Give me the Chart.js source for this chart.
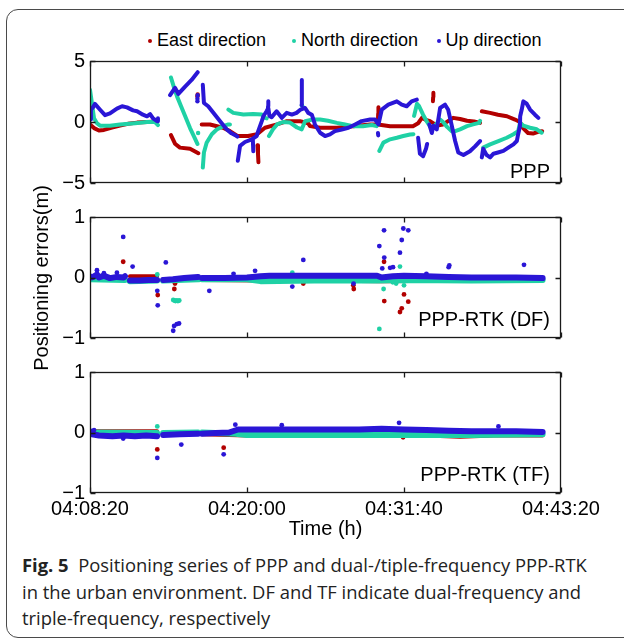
<!DOCTYPE html>
<html>
<head>
<meta charset="utf-8">
<script src="https://cdn.jsdelivr.net/npm/chart.js@4.4.1/dist/chart.umd.min.js"></script>
<style>
  html, body { margin: 0; padding: 0; background: #fff; }
  body { position: relative; width: 624px; height: 639px; overflow: hidden; font-family: "Liberation Sans", Arial, sans-serif; color: #000; }
  .frame { position: absolute; left: 6px; top: 9px; width: 700px; height: 629px; border: 1px solid #4a4a4a; border-radius: 12px; box-sizing: border-box; }
  canvas { position: absolute; left: 0; }
  #legend .item { position: absolute; top: 30px; font-size: 18px; line-height: 20px; white-space: nowrap; }
  #legend .dot { position: absolute; width: 4px; height: 4px; border-radius: 50%; top: 9px; left: -9px; }
  .ylabel { position: absolute; left: -109px; top: 267.5px; width: 300px; height: 20px; line-height: 20px; font-size: 20px; text-align: center; transform: rotate(-90deg); white-space: nowrap; }
  .xlabel { position: absolute; left: 225.5px; top: 518px; width: 200px; line-height: 20px; font-size: 20px; text-align: center; }
  .caption { position: absolute; left: 22px; top: 552px; font-family: "Open Sans", sans-serif; font-size: 18.4px; line-height: 26.6px; color: #222; white-space: nowrap; }
  .caption b { font-weight: 700; }
</style>
</head>
<body>
<div class="frame"></div>
<div id="legend"></div>
<canvas id="pppCanvas" width="624" height="170" style="top:30px"></canvas>
<canvas id="dfCanvas" width="624" height="155" style="top:200px"></canvas>
<canvas id="tfCanvas" width="624" height="185" style="top:355px"></canvas>
<div class="ylabel">Positioning errors(m)</div>
<div class="xlabel">Time (h)</div>
<div class="caption"><b>Fig. 5</b>&nbsp; Positioning series of PPP and dual-/tiple-frequency PPP-RTK<br>in the urban environment. DF and TF indicate dual-frequency and<br>triple-frequency, respectively</div>
<script>
// time axis in seconds after 04:08:20
const timeTicks = [0, 700, 1400, 2100];
const timeLabels = ['04:08:20', '04:20:00', '04:31:40', '04:43:20'];
const pppTicks = [-5, 0, 5];
const pppTickLabels = ['\u22125', '0', '5'];
const rtkTicks = [-1, 0, 1];
const rtkTickLabels = ['\u22121', '0', '1'];

const seriesNames = ['East direction', 'North direction', 'Up direction'];
const seriesColors = ['#b20000', '#1fd1a5', '#2a16d6'];

// PPP: pieces of each track, [seconds, metres]
const pppEast = [
  [[0,-0.2],[18,-0.5],[40,-0.7],[62,-0.65],[98,-0.45],[134,-0.3],[169,-0.15],[210,-0.05],[254,0],[299,0.05]],
  [[361,-1.07],[379,-1.78],[401,-2.1],[446,-2.2],[483,-2.56]],
  [[498,-0.2],[535,-0.2],[593,-0.47],[624,-0.75],[657,-1.15],[705,-1.15],[745,-1.0],[780,-0.47],[834,-0.2],[878,0.07],[936,0.07],[972,-0.1],[981,-0.34],[1026,-0.47],[1101,-0.47],[1173,-0.34],[1249,-0.2],[1284,-0.2],[1338,-0.34],[1396,-0.34],[1440,-0.34],[1463,-0.1],[1480,0.34],[1494,0.2],[1516,0.07],[1547,-0.3],[1574,-0.2],[1619,0.34],[1650,0.25],[1681,0.1],[1712,0.05],[1739,-0.07]],
  [[1747,0.88],[1784,0.75],[1819,0.6],[1859,0.47],[1895,0.2],[1917,0],[1931,-0.5],[1953,-0.9],[1975,-0.95],[1998,-0.8],[2016,-0.75]],
  [[747,-1.9],[749,-2.6],[751,-3.3]],
  [[1284,0.2],[1285,0.7],[1286,1.2]],
  [[1529,1.7],[1530,2.05],[1531,2.4]]
];
const pppEastDots = [[479,2.1],[480,2.25]];

const pppNorth = [
  [[0,2.64],[9,1.5],[18,0.3],[31,-0.1],[45,-0.3],[89,-0.3],[134,-0.2],[201,-0.1],[254,0],[290,0],[303,-0.25]],
  [[361,3.65],[375,2.8],[388,2.1],[406,1.3],[424,0.5],[446,-0.5],[464,-1.2],[479,-1.8]],
  [[503,-3.73],[508,-2.5],[520,-1.7],[543,-1.0],[565,-0.61],[594,-0.34],[617,-0.2],[624,-0.2]],
  [[617,1.02],[639,0.75],[684,0.61],[728,0.65],[766,0.61],[780,0.34],[788,0.3]],
  [[798,-1.15],[816,-0.6],[834,-0.2],[861,0],[892,-0.05],[923,-0.45],[944,-0.6],[959,0.07],[994,0.2],[1026,0.2],[1061,0.1],[1101,-0.07],[1137,-0.2],[1173,-0.34],[1217,-0.34],[1257,-0.25],[1278,-0.34]],
  [[1290,-2.37],[1308,-1.69],[1338,-1.42],[1368,-1.29],[1397,-1.15],[1427,-1.02],[1442,-1.0]],
  [[1445,0.5],[1458,1.5],[1467,1.3],[1485,0.6],[1503,0],[1521,-0.5],[1538,-0.3],[1561,0.2],[1574,0],[1592,-0.4],[1613,-0.75],[1628,-0.75],[1650,-0.6],[1681,-0.34],[1708,-0.2],[1735,-0.07],[1739,0.1]],
  [[1753,-2.1],[1784,-1.83],[1821,-1.56],[1858,-1.29],[1888,-1.0],[1909,-0.75],[1917,-0.07],[1932,-0.3],[1962,-0.47],[1992,-0.6],[2014,-0.88]]
];
const pppNorthDots = [[482,-0.9],[945,1.35],[950,1.2]];

const pppUp = [
  [[0,0.2],[4,1.0],[13,1.2],[22,1.48],[45,1.0],[67,0.56],[89,0.7],[120,1.1],[143,1.29],[165,1.2],[192,0.95],[210,0.88],[236,0.6],[254,0.47],[268,0.65],[281,0.3],[299,0.07],[303,0.3]],
  [[357,2.2],[379,2.8],[394,2.3],[424,2.9],[453,3.45],[480,4.08]],
  [[503,3.05],[508,1.56],[527,1.29],[550,0.75],[580,0.07],[610,-0.61],[631,-0.93],[654,-1.15],[657,-1.2]],
  [[659,-3.18],[669,-1.96],[691,-1.64],[721,-1.42],[743,-1.15],[750,-0.75],[766,0.07],[773,0.47],[788,0.9],[795,1.15],[800,0.5],[810,0.4],[832,0.88],[855,0.34],[877,0.75],[900,0.61],[921,0.75],[939,1.02],[959,1.15],[973,0.75],[989,0.6],[1003,-0.2],[1026,-0.88],[1048,-1.15],[1070,-1.02],[1092,-0.75],[1122,-0.61],[1152,-0.47],[1182,-0.2],[1211,0.07],[1249,0.2],[1271,0.2],[1286,-0.2],[1301,1.02],[1330,1.42],[1368,1.69],[1390,1.42],[1412,1.29],[1434,1.69],[1457,1.83]],
  [[1463,-1.3],[1471,-2.6],[1485,-2.8],[1498,-2.2],[1503,-1.8]],
  [[1513,-0.2],[1524,-0.9],[1531,-0.3],[1546,-0.6],[1561,1.15],[1583,1.42],[1597,1.0],[1613,-0.3],[1628,-1.56],[1642,-2.5],[1665,-2.7],[1694,-2.4],[1717,-2.0],[1739,-1.56]],
  [[1747,-2.9],[1753,-2.2],[1768,-2.7],[1784,-2.9],[1799,-2.6],[1819,-2.5],[1843,-2.37],[1865,-2.1],[1888,-1.83],[1903,-1.56],[1909,-1.0],[1917,-0.34],[1918,0.47],[1925,1.02],[1932,1.69],[1947,1.5],[1962,1.02],[1984,0.6],[1999,0.34]],
  [[943,1.4],[944,2.4],[945,3.45]],
  [[726,-1.4],[727,-1.9],[728,-2.4]],
  [[793,0.9],[794,1.3],[795,1.7]],
  [[1284,-0.9],[1285,-1.1]]
];
const pppUpDots = [[479,1.7],[479,1.9],[480,2.2]];

// PPP-RTK dual-frequency
const dfEast = [
  [[0,0],[156,0]],
  [[178,0.02],[299,0.02]],
  [[326,-0.03],[482,-0.02]],
  [[499,-0.04],[760,-0.05],[1000,-0.05],[1300,-0.06],[1700,-0.05],[2018,-0.05]]
];
const dfNorth = [
  [[0,-0.03],[156,-0.04]],
  [[178,-0.06],[299,-0.05]],
  [[326,-0.05],[482,-0.03]],
  [[499,-0.03],[700,-0.03],[760,-0.06],[1000,-0.05],[1280,-0.05],[1400,-0.04],[1700,-0.05],[2018,-0.04]]
];
const dfUp = [
  [[0,0.02],[9,0],[31,0.05],[40,0],[62,0.03],[89,-0.01],[120,0.01],[150,0],[156,0.02]],
  [[178,-0.05],[220,-0.05],[260,-0.04],[299,-0.04]],
  [[326,-0.04],[370,-0.03],[420,-0.01],[482,0.01]],
  [[499,-0.01],[600,-0.01],[700,0],[760,0.02],[800,0.03],[900,0.03],[1000,0.03],[1100,0.03],[1200,0.03],[1280,0.03],[1300,0],[1350,0.02],[1400,0.03],[1500,0.02],[1600,0.01],[1700,0],[1800,0],[1900,0],[2018,-0.01]]
];
const dfEastDots = [[148,0.26],[302,-0.29],[376,-0.19],[379,-0.1],[951,-0.1],[1174,-0.13],[1176,-0.19],[1311,0.26],[1312,-0.39],[1382,-0.57],[1390,-0.51],[1400,-0.28],[1419,-0.4]];
const dfNorthDots = [[300,0.05],[371,-0.37],[376,-0.38],[381,-0.39],[387,-0.38],[392,-0.39],[398,-0.38],[902,0.08],[1290,-0.85],[1309,-0.19],[1350,-0.08],[1365,-0.1],[1382,0.18],[1400,-0.13]];
const dfUpDots = [[31,0.12],[62,0.07],[120,0.08],[148,0.67],[190,0.18],[300,-0.22],[302,-0.46],[338,0.25],[371,-0.88],[375,-0.8],[387,-0.77],[397,-0.76],[532,-0.22],[640,0.06],[736,0.11],[902,-0.15],[951,0.29],[1175,-0.1],[1290,0.52],[1303,0.15],[1311,0.78],[1312,0.33],[1338,0.16],[1351,0.17],[1382,0.41],[1390,0.62],[1397,0.81],[1419,0.78],[1500,0.06],[1599,0.17],[1602,0.2],[1935,0.21]];

// PPP-RTK triple-frequency
const tfEast = [
  [[0,0.02],[299,0.02]],
  [[326,-0.02],[482,-0.02]],
  [[499,-0.03],[700,-0.05],[1500,-0.05],[1650,-0.07],[1800,-0.05],[2018,-0.05]]
];
const tfNorth = [
  [[0,0],[299,-0.01]],
  [[326,-0.01],[482,0]],
  [[499,0],[650,-0.02],[700,-0.04],[1000,-0.04],[1400,-0.04],[1700,-0.04],[2018,-0.03]]
];
const tfUp = [
  [[0,0.02],[9,-0.03],[40,-0.05],[100,-0.06],[150,-0.05],[200,-0.06],[250,-0.05],[299,-0.06]],
  [[326,-0.04],[400,-0.03],[482,-0.02]],
  [[499,-0.02],[560,-0.01],[620,0],[660,0.05],[700,0.05],[800,0.05],[900,0.05],[1000,0.05],[1100,0.05],[1200,0.05],[1300,0.06],[1400,0.05],[1500,0.04],[1600,0.03],[1700,0.02],[1800,0.02],[1900,0.02],[2018,0.01]]
];
const tfEastDots = [[300,-0.28],[596,-0.25],[1396,-0.08]];
const tfNorthDots = [[300,0.1]];
const tfUpDots = [[18,0.04],[148,-0.1],[300,-0.42],[407,-0.2],[596,-0.36],[648,0.13],[855,0.12],[1378,0.16],[1821,0.1]];

Chart.defaults.font.family = '"Liberation Sans", Arial, sans-serif';
Chart.defaults.font.size = 20;
Chart.defaults.color = '#000';

// legend (html)
const legendX = [150, 294, 438.5];
const legend = document.getElementById('legend');
seriesNames.forEach((name, i) => {
    const item = document.createElement('div');
    item.className = 'item';
    item.style.left = (legendX[i] + 7) + 'px';
    item.innerHTML = `<span class="dot" style="background:${seriesColors[i]}"></span>${name}`;
    legend.appendChild(item);
});

function toLine(segments) {
    const out = [];
    segments.forEach((seg, i) => {
        if (i > 0) out.push({ x: seg[0][0], y: null });
        seg.forEach(([x, y]) => out.push({ x, y }));
    });
    return out;
}

function seriesSets(lines, dots, idx, width, dotRadius) {
    const color = seriesColors[idx];
    const order = 3 - idx;   // east underneath, up on top
    return [
        { data: toLine(lines), borderColor: color, borderWidth: width, pointRadius: 0, spanGaps: false,
          borderCapStyle: 'round', borderJoinStyle: 'round', tension: 0, order },
        { data: dots.map(([x, y]) => ({ x, y })), showLine: false, pointRadius: dotRadius,
          pointBackgroundColor: color, pointBorderWidth: 0, order }
    ];
}

// box with inward ticks + panel label, matlab style
const matlabBox = {
    id: 'matlabBox',
    afterDatasetsDraw(chart, args, opts) {
        const { ctx, chartArea: a, scales } = chart;
        const L = Math.round(a.left) + 0.5, R = Math.round(a.right) - 0.5;
        const T = Math.round(a.top) + 0.5, B = Math.round(a.bottom) - 0.5;
        ctx.save();
        ctx.strokeStyle = '#1a1a1a';
        ctx.lineWidth = 1.3;
        ctx.strokeRect(L, T, R - L, B - T);
        ctx.beginPath();
        timeTicks.forEach(v => {
            const px = Math.round(scales.x.getPixelForValue(v)) + 0.5;
            ctx.moveTo(px, B); ctx.lineTo(px, B - 5);
            ctx.moveTo(px, T); ctx.lineTo(px, T + 5);
        });
        opts.yTicks.forEach(v => {
            const py = Math.round(scales.y.getPixelForValue(v)) + 0.5;
            ctx.moveTo(L, py); ctx.lineTo(L + 5, py);
            ctx.moveTo(R, py); ctx.lineTo(R - 5, py);
        });
        ctx.stroke();
        ctx.fillStyle = '#000';
        ctx.font = '20px "Liberation Sans", Arial, sans-serif';
        ctx.textAlign = 'right';
        ctx.textBaseline = 'alphabetic';
        ctx.fillText(opts.label, a.right - 11, a.bottom - opts.labelGap);
        ctx.restore();
    }
};

function makeChart(id, sets, yMin, yMax, yTicks, yLabels, label, labelGap, showTime, padding) {
    return new Chart(document.getElementById(id), {
        type: 'line',
        data: { datasets: sets },
        options: {
            responsive: false,
            animation: false,
            events: [],
            layout: { padding },
            scales: {
                x: {
                    type: 'linear', min: 0, max: 2100, display: showTime,
                    afterBuildTicks: s => { s.ticks = timeTicks.map(v => ({ value: v })); },
                    afterFit: s => { s.height = showTime ? 30 : 0; },
                    grid: { display: false, drawTicks: false },
                    border: { display: false },
                    ticks: { padding: 4, maxRotation: 0, autoSkip: false, callback: (v, i) => timeLabels[i] }
                },
                y: {
                    type: 'linear', min: yMin, max: yMax,
                    afterBuildTicks: s => { s.ticks = yTicks.map(v => ({ value: v })); },
                    afterFit: s => { s.width = 90; },
                    grid: { display: false, drawTicks: false },
                    border: { display: false },
                    ticks: { padding: 5, callback: (v, i) => yLabels[i] }
                }
            },
            plugins: {
                legend: { display: false },
                tooltip: { enabled: false },
                matlabBox: { yTicks, label, labelGap }
            }
        },
        plugins: [matlabBox]
    });
}

const pppSets = [
    ...seriesSets(pppEast, pppEastDots, 0, 4, 2.2),
    ...seriesSets(pppNorth, pppNorthDots, 1, 4, 2.2),
    ...seriesSets(pppUp, pppUpDots, 2, 4, 2.2)
];
const dfSets = [
    ...seriesSets(dfEast, dfEastDots, 0, 4, 2.4),
    ...seriesSets(dfNorth, dfNorthDots, 1, 6, 2.4),
    ...seriesSets(dfUp, dfUpDots, 2, 6, 2.4)
];
const tfSets = [
    ...seriesSets(tfEast, tfEastDots, 0, 4, 2.4),
    ...seriesSets(tfNorth, tfNorthDots, 1, 6, 2.4),
    ...seriesSets(tfUp, tfUpDots, 2, 6, 2.4)
];

makeChart('pppCanvas', pppSets, -5, 5, pppTicks, pppTickLabels, 'PPP', 5, false,
    { left: 0, right: 63, top: 31, bottom: 16 });
makeChart('dfCanvas', dfSets, -1, 1, rtkTicks, rtkTickLabels, 'PPP-RTK (DF)', 12, false,
    { left: 0, right: 63, top: 16, bottom: 16 });
makeChart('tfCanvas', tfSets, -1, 1, rtkTicks, rtkTickLabels, 'PPP-RTK (TF)', 12, true,
    { left: 0, right: 63, top: 15, bottom: 17 });
</script>
</body>
</html>
